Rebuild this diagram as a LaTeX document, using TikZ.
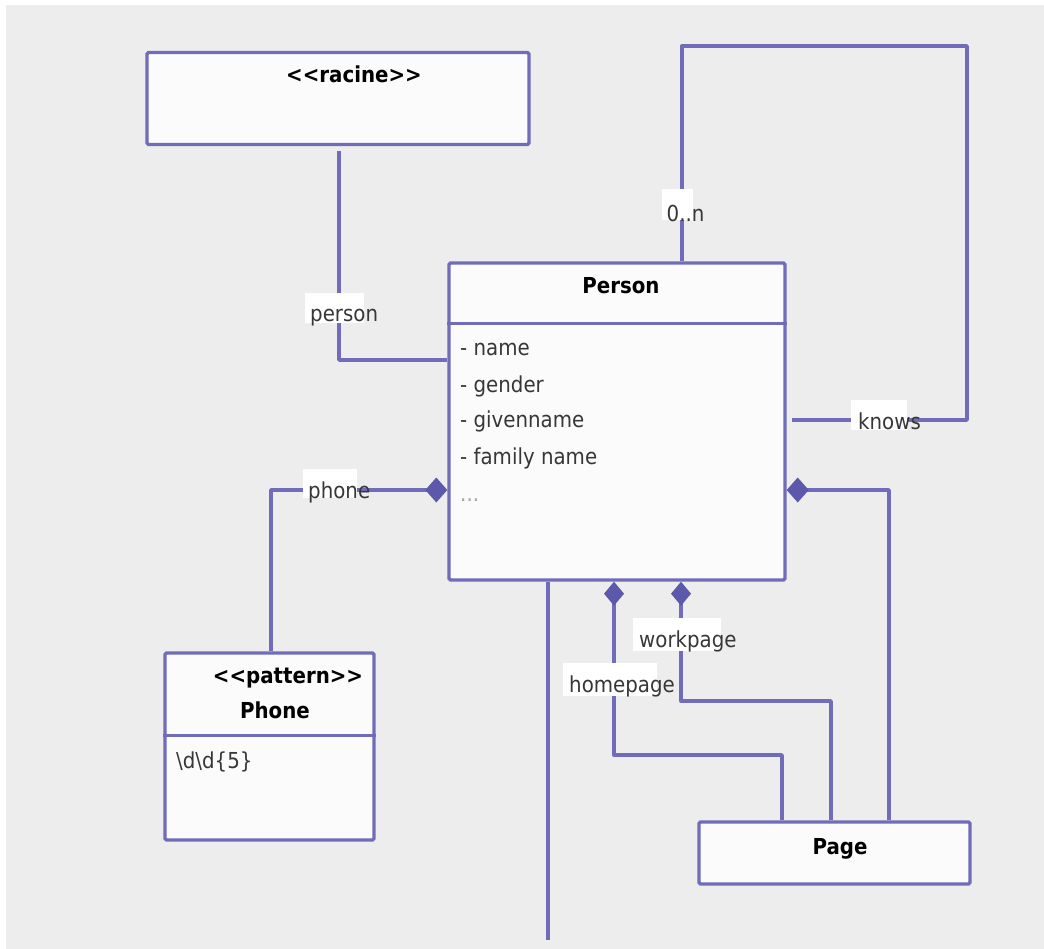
\documentclass[tikz,border=0pt]{standalone}
\usepackage{fontspec}
\setmainfont{DejaVu Sans}[FakeStretch=0.9]
\usetikzlibrary{arrows.meta,calc}
\definecolor{bgc}{RGB}{237,237,237}
\definecolor{linec}{RGB}{112,108,186}
\definecolor{diac}{RGB}{92,88,170}
\definecolor{txtc}{RGB}{55,55,55}
\definecolor{dotc}{RGB}{165,165,165}
\definecolor{boxfill}{RGB}{251,251,251}
\newcommand\dfont{\fontsize{22}{26}\selectfont}
\tikzset{
  umlbox/.style={draw=linec, line width=3.4pt, fill=boxfill, rounded corners=1.5pt, inner sep=0pt},
  conn/.style={draw=linec, line width=3.4pt, line join=round},
  compH/.style={conn, {Diamond[length=22pt,width=25pt,color=diac]}-},
  compV/.style={conn, {Diamond[length=24pt,width=20pt,color=diac]}-},
  title/.style={font=\dfont\bfseries, text=black, inner sep=0pt, anchor=base},
  attr/.style={font=\dfont, text=txtc, inner sep=0pt, anchor=base west},
  lbl/.style={font=\dfont, text=txtc, inner sep=0pt, anchor=base west},
  patch/.style={fill=white}
}
\begin{document}
\begin{tikzpicture}[x=1pt,y=-1pt]
\useasboundingbox (0,0) rectangle (1044,949);
\fill[white] (0,0) rectangle (1044,949);
\fill[bgc] (6,5) rectangle (1044,949);

% boxes
\node[umlbox, minimum width=382pt, minimum height=92pt] (racine) at (338,98.5) {};
\node[umlbox, minimum width=336pt, minimum height=317pt] (person) at (617,421.5) {};
\node[umlbox, minimum width=209pt, minimum height=187pt] (phone) at (269.5,746.5) {};
\node[umlbox, minimum width=271pt, minimum height=62pt] (page) at (834.5,853) {};

% compartment separators
\draw[conn] ($(person.north west)+(0,62)$) -- ($(person.north east)+(0,62)$);
\draw[conn] ($(phone.north west)+(0,84)$) -- ($(phone.north east)+(0,84)$);

% texts in boxes
\node[title] (racineT) at (354,83) {<{}<racine>{}>};
\node[title] (personT) at (621,294) {Person};
\node[attr] (a1) at (460,356) {- name};
\node[attr] (a2) at (460,392) {- gender};
\node[attr] (a3) at (460,428) {- givenname};
\node[attr] (a4) at (460,464) {- family name};
\node[attr, text=dotc] (a5) at (460,501) {...};
\node[title] (patternT) at (288,683) {<{}<pattern>{}>};
\node[title] (phoneT) at (275,718.5) {Phone};
\node[attr] (regex) at (176,768) {\textbackslash d\textbackslash d\{5\}};
\node[title] (pageT) at (840,854) {Page};

% bend points
\coordinate (kTop) at (682,46);
\coordinate (kR) at (967,420);
\coordinate (phB) at (271,490);
\coordinate (pgR) at (889,490);
\coordinate (hp1) at (614,755);
\coordinate (hp2) at (782,755);
\coordinate (wp1) at (681,701);
\coordinate (wp2) at (831,701);
\coordinate (freeEnd) at (548,940);
\coordinate (rc) at (339,360);

% connectors
\draw[conn] ($(racine.south)+(1,5)$) -- (rc) -- (person.west |- rc);
\draw[conn] (kTop |- person.north) -- (kTop) -| (kR) -- ($(person.east |- kR)+(5,0)$);
\draw[compH] (person.west |- phB) -| (phone.north -| phB);
\draw[compH] (person.east |- pgR) -| (page.north -| pgR);
\draw[compV] (person.south -| hp1) -- (hp1) -- (hp2) -- (page.north -| hp2);
\draw[compV] (person.south -| wp1) -- (wp1) -- (wp2) -- (page.north -| wp2);
\draw[conn] (person.south -| freeEnd) -- (freeEnd);

% label patches
\fill[patch] (305,293) rectangle (364,323);
\fill[patch] (303,469) rectangle (357,498);
\fill[patch] (662,189) rectangle (693,220);
\fill[patch] (851,400) rectangle (907,430);
\fill[patch] (633,618) rectangle (721,651);
\fill[patch] (563,663) rectangle (657,696);

% connector labels
\node[lbl] (lPerson) at (310,322) {person};
\node[lbl] (lPhone) at (308,498.5) {phone};
\node[lbl] (lCard) at (666.5,221.5) {0..n};
\node[lbl] (lKnows) at (858,429.5) {knows};
\node[lbl] (lWork) at (639,647.5) {workpage};
\node[lbl] (lHome) at (569,692) {homepage};
\end{tikzpicture}
\end{document}
